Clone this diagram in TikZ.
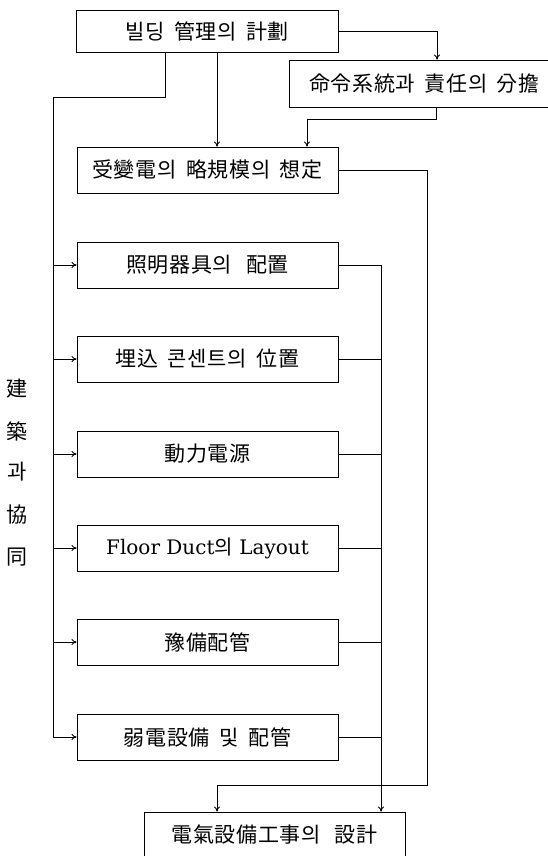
\documentclass[tikz,border=0pt]{standalone}
\usepackage{fontspec}
\setmainfont{DejaVu Serif}
\newfontfamily\kr[LetterSpace=3,WordSpace=1.8]{Noto Sans CJK KR}
\usetikzlibrary{arrows.meta}
\begin{document}
\begin{tikzpicture}[x=1pt,y=-1pt,
  box/.style={draw,line width=0.9pt,rectangle,minimum width=261pt,minimum height=46pt,inner sep=0pt,
    font=\kr\fontsize{21}{24}\selectfont},
  lab/.style={font=\kr\fontsize{21}{24}\selectfont,inner sep=0pt},
  ln/.style={line width=0.9pt},
  arr/.style={line width=0.9pt,-{To[length=5pt,width=6pt]}}]
\useasboundingbox (0,0) rectangle (548,856);
% boxes
\node[box,minimum width=262pt,minimum height=42pt] (b1) at (207,31) {빌딩 管理의 計劃};
\node[box,minimum width=271pt,minimum height=47pt] (b2) at (424.5,83.5) {命令系統과 責任의 分擔};
\node[box] (b3) at (207.5,170) {受變電의 略規模의 想定};
\node[box] (b4) at (207.5,265) {照明器具의\hspace{14pt}配置};
\node[box] (b5) at (207.5,359) {埋込 콘센트의 位置};
\node[box] (b6) at (207.5,454) {動力電源};
\node[box,font=\fontsize{20}{24}\selectfont] (b7) at (207.5,548) {Floor Duct{\kr 의} Layout};
\node[box] (b8) at (207.5,642) {豫備配管};
\node[box] (b9) at (207.5,737) {弱電設備 및 配管};
\node[box] (b10) at (274.5,835) {電氣設備工事의\hspace{14pt}設計};
% side label
\node[lab] (l1) at (17,389) {建};
\node[lab] (l2) at (17,431) {築};
\node[lab] (l3) at (17,472) {과};
\node[lab] (l4) at (17,515) {協};
\node[lab] (l5) at (17,557) {同};
% helper coordinates
\coordinate (xa) at (437,0);
\coordinate (k1) at (436,119);
\coordinate (k2) at (307,119);
\coordinate (xm) at (217,0);
\coordinate (xl) at (165,97);
\coordinate (bus) at (53,97);
\coordinate (xin) at (381,0);
\coordinate (hb) at (427,785);
% top connectors
\draw[arr] (b1.east) -| (b2.north -| xa);
\draw[ln] (b2.south -| k1) -- (k1) -- (k2);
\draw[arr] (k2) -- (b3.north -| k2);
\draw[arr] (b1.south -| xm) -- (b3.north -| xm);
\draw[ln] (b1.south -| xl) -- (xl) -- (bus);
% left bus
\draw[arr] (bus) |- (b9.west);
\foreach \b in {b4,b5,b6,b7,b8}{
  \draw[arr] (\b.west -| bus) -- (\b.west);
}
% right side
\draw[arr] (b4.east) -| (b10.north -| xin);
\foreach \b in {b5,b6,b7,b8,b9}{
  \draw[ln] (\b.east) -- (\b.east -| xin);
}
\draw[arr] (b3.east) -| (hb) -| (b10.north -| xm);
\end{tikzpicture}
\end{document}
